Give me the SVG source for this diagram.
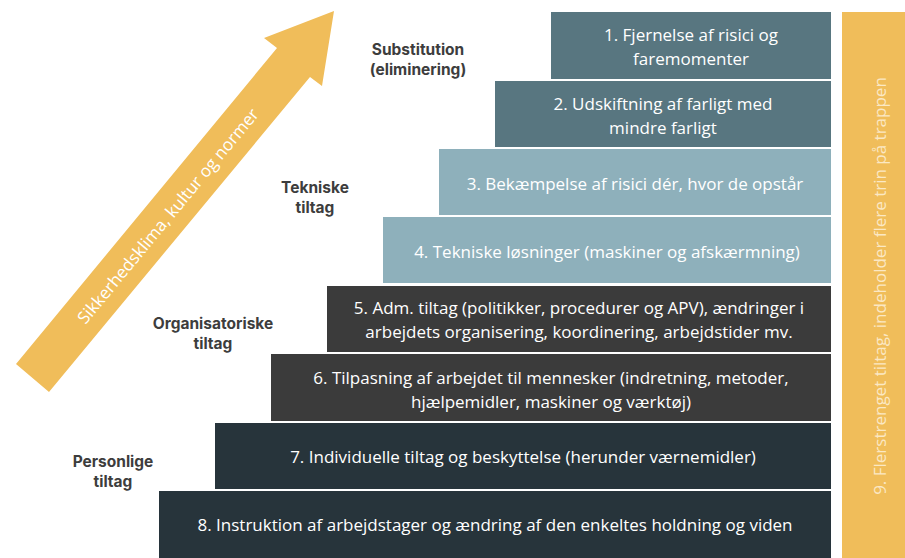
<svg xmlns="http://www.w3.org/2000/svg" width="905" height="558" viewBox="0 0 905 558">
<style>
.st{font-family:"Open Sans","Liberation Sans",sans-serif;font-size:17px;fill:#ffffff;text-anchor:middle}
.lb{font-family:Inter,"Liberation Sans",sans-serif;font-size:15.5px;font-weight:700;fill:#3d3d3d;text-anchor:middle}
.c1{fill:#587680}.c2{fill:#8eb0bb}.c3{fill:#3b3b3b}.c4{fill:#27343b}
</style>
<rect width="905" height="558" fill="#ffffff"/>
<g id="arrow">
<polygon points="334,11 322,86 310,77 49,392 16,364 277,48 264,38" fill="#f0bd5a"/>
<text transform="translate(168,216) rotate(-50.4)" y="6" style="font-family:'Open Sans','Liberation Sans',sans-serif;font-size:17px;fill:#ffffff;text-anchor:middle">Sikkerhedsklima, kultur og normer</text>
</g>
<g id="label-substitution"><text class="lb" x="418" y="55">Substitution</text><text class="lb" x="418" y="75">(eliminering)</text></g>
<g id="label-tekniske"><text class="lb" x="315" y="193">Tekniske</text><text class="lb" x="315" y="213">tiltag</text></g>
<g id="label-organisatoriske"><text class="lb" x="213" y="329">Organisatoriske</text><text class="lb" x="213" y="349">tiltag</text></g>
<g id="label-personlige"><text class="lb" x="113" y="467">Personlige</text><text class="lb" x="113" y="487">tiltag</text></g>
<g id="step1"><rect class="c1" x="551" y="12" width="280" height="67"/><text class="st" x="691" y="41">1. Fjernelse af risici og</text><text class="st" x="691" y="65">faremomenter</text></g>
<g id="step2"><rect class="c1" x="495" y="81" width="336" height="66"/><text class="st" x="663" y="110">2. Udskiftning af farligt med</text><text class="st" x="663" y="134">mindre farligt</text></g>
<g id="step3"><rect class="c2" x="439" y="149" width="392" height="66"/><text class="st" x="635" y="190">3. Bekæmpelse af risici dér, hvor de opstår</text></g>
<g id="step4"><rect class="c2" x="383" y="217" width="448" height="66"/><text class="st" x="607" y="258">4. Tekniske løsninger (maskiner og afskærmning)</text></g>
<g id="step5"><rect class="c3" x="327" y="286" width="504" height="66"/><text class="st" x="579" y="314">5. Adm. tiltag (politikker, procedurer og APV), ændringer i</text><text class="st" x="579" y="338">arbejdets organisering, koordinering, arbejdstider mv.</text></g>
<g id="step6"><rect class="c3" x="271" y="354" width="560" height="67"/><text class="st" x="551" y="384">6. Tilpasning af arbejdet til mennesker (indretning, metoder,</text><text class="st" x="551" y="408">hjælpemidler, maskiner og værktøj)</text></g>
<g id="step7"><rect class="c4" x="215" y="423" width="616" height="66"/><text class="st" x="523" y="463">7. Individuelle tiltag og beskyttelse (herunder værnemidler)</text></g>
<g id="step8"><rect class="c4" x="159" y="491" width="672" height="67"/><text class="st" x="495" y="531">8. Instruktion af arbejdstager og ændring af den enkeltes holdning og viden</text></g>
<g id="step9"><rect x="842" y="12" width="63" height="546" fill="#f0bd5a"/><text transform="translate(886,286) rotate(-90)" style="font-family:'Open Sans','Liberation Sans',sans-serif;font-size:17px;fill:#fbe8c4;text-anchor:middle">9. Flerstrenget tiltag, indeholder flere trin på trappen</text></g>
<g id="connectors"></g>
</svg>
